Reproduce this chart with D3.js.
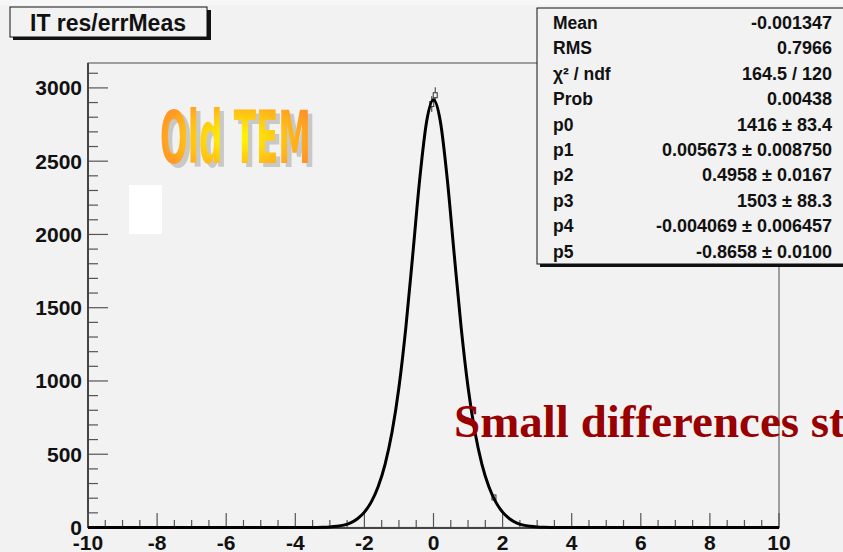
<!DOCTYPE html>
<html><head><meta charset="utf-8">
<script src="https://cdn.jsdelivr.net/npm/d3@7"></script>
<style>html,body{margin:0;padding:0;background:#f2f2f2;}svg{display:block;}</style>
</head><body>
<svg id="c" width="843" height="552"></svg>
<script>
// ---- data ----
const title = "IT res/errMeas";
const xTicks = [-10, -8, -6, -4, -2, 0, 2, 4, 6, 8, 10];
const yTicks = [0, 500, 1000, 1500, 2000, 2500, 3000];
// fitted curve
const fitX = [-10, -4, -3.6, -3.4, -3.2, -3.0, -2.8, -2.6, -2.4, -2.2, -2.0, -1.8, -1.6, -1.4, -1.2, -1.0, -0.8, -0.6, -0.4, -0.2, 0, 0.2, 0.4, 0.6, 0.8, 1.0, 1.2, 1.4, 1.6, 1.8, 2.0, 2.2, 2.4, 2.6, 2.8, 3.0, 3.2, 3.4, 3.6, 4, 10];
const fitY = [0, 0, 0.3, 0.7, 1.6, 3.7, 8, 16, 32, 60, 105, 175, 280, 433, 651, 957, 1366, 1863, 2374, 2769, 2919, 2769, 2374, 1863, 1366, 957, 651, 433, 280, 175, 105, 60, 32, 16, 8, 3.7, 1.6, 0.7, 0.3, 0, 0];
// visible histogram bins (bin centre, content)
const binX = [-0.05, 0.05, 1.75];
const binY = [2890, 2950, 205];
const statLabels = ["Mean", "RMS", "χ² / ndf", "Prob", "p0", "p1", "p2", "p3", "p4", "p5"];
const statValues = ["-0.001347", "0.7966", "164.5 / 120", "0.00438", "1416 ± 83.4", "0.005673 ± 0.008750", "0.4958 ± 0.0167", "1503 ± 88.3", "-0.004069 ± 0.006457", "-0.8658 ± 0.0100"];
const overlayLabel = "Old TEM";
const noteText = "Small differences st";

// ---- drawing ----
const svg = d3.select("#c");
const W = 843, H = 552;
const SANS = "Liberation Sans, Arial, Helvetica, sans-serif";
svg.append("rect").attr("width", W).attr("height", H).attr("fill", "#f2f2f2");
svg.append("rect").attr("width", W).attr("height", 5).attr("fill", "#f7f7f7");

const x = d3.scaleLinear().domain([-10, 10]).range([88, 779]);
const y = d3.scaleLinear().domain([0, 3170]).range([527.5, 63]);

// frame
svg.append("rect").attr("x", 88).attr("y", 63).attr("width", 779 - 88).attr("height", 527.5 - 63)
  .attr("fill", "none").attr("stroke", "#666").attr("stroke-width", 1.2);

// y axis
const yMinor = d3.range(0, 3101, 100);
const gy = svg.append("g");
gy.selectAll("line.t").data(yMinor).join("line")
  .attr("x1", 88).attr("x2", d => d % 500 === 0 ? 108 : 98)
  .attr("y1", d => y(d)).attr("y2", d => y(d))
  .attr("stroke", "#555").attr("stroke-width", 1.2);
gy.append("line").attr("x1", 88).attr("x2", 88).attr("y1", 63).attr("y2", 528)
  .attr("stroke", "#444").attr("stroke-width", 2);
gy.selectAll("text").data(yTicks).join("text")
  .attr("x", 82).attr("y", d => y(d) + 7.5).attr("text-anchor", "end")
  .attr("font-family", SANS).attr("font-weight", "bold")
  .attr("font-size", 21).attr("fill", "#111").text(d => d);

// x axis
const xMinor = d3.range(-10, 10.001, 0.5);
const gx = svg.append("g");
gx.selectAll("line.t").data(xMinor).join("line")
  .attr("x1", d => x(d)).attr("x2", d => x(d))
  .attr("y1", 528).attr("y2", d => Math.abs(d % 2) < 1e-9 ? 513 : 520)
  .attr("stroke", "#555").attr("stroke-width", 1.2);
gx.append("line").attr("x1", 88).attr("x2", 779).attr("y1", 528).attr("y2", 528)
  .attr("stroke", "#444").attr("stroke-width", 2);
gx.selectAll("text").data(xTicks).join("text")
  .attr("x", d => x(d)).attr("y", 550).attr("text-anchor", "middle")
  .attr("font-family", SANS).attr("font-weight", "bold")
  .attr("font-size", 21).attr("fill", "#111").text(d => d);

// histogram points with error bars
const bins = binX.map((v, i) => ({x: v, y: binY[i]}));
const gb = svg.append("g").attr("stroke", "#333").attr("stroke-width", 1);
gb.selectAll("line.e").data(bins).join("line")
  .attr("x1", d => x(d.x)).attr("x2", d => x(d.x))
  .attr("y1", d => y(d.y + Math.sqrt(d.y))).attr("y2", d => y(d.y - Math.sqrt(d.y)));
gb.selectAll("rect").data(bins).join("rect")
  .attr("x", d => x(d.x) - 2).attr("y", d => y(d.y) - 2.5).attr("width", 4).attr("height", 5)
  .attr("fill", "#f2f2f2");

// fit curve
const fit = fitX.map((v, i) => [v, fitY[i]]);
svg.append("path").datum(fit)
  .attr("d", d3.line().x(d => x(d[0])).y(d => y(d[1])).curve(d3.curveMonotoneX))
  .attr("fill", "none").attr("stroke", "#000").attr("stroke-width", 3)
  .attr("stroke-linejoin", "round");

// "Old TEM" word-art
const defs = svg.append("defs");
const grad = defs.append("radialGradient").attr("id", "wa").attr("cx", "50%").attr("cy", "50%").attr("r", "55%");
grad.append("stop").attr("offset", "0%").attr("stop-color", "#ffff00");
grad.append("stop").attr("offset", "100%").attr("stop-color", "#ff9326");
const wa = svg.append("g").attr("transform", "translate(160,163) scale(0.865,1.72)");
wa.append("text").attr("x", 5).attr("y", 2.5)
  .attr("font-family", "DejaVu Sans Condensed, DejaVu Sans, sans-serif").attr("font-weight", "bold")
  .attr("font-size", 42).attr("fill", "#c8c8c8").text(overlayLabel);
wa.append("text").attr("x", 0).attr("y", 0)
  .attr("font-family", "DejaVu Sans Condensed, DejaVu Sans, sans-serif").attr("font-weight", "bold")
  .attr("font-size", 42).attr("fill", "url(#wa)").text(overlayLabel);

// white block
svg.append("rect").attr("x", 129).attr("y", 185).attr("width", 33).attr("height", 49).attr("fill", "#fff");

// title box
svg.append("rect").attr("x", 13).attr("y", 10).attr("width", 198).attr("height", 30).attr("fill", "#111");
svg.append("rect").attr("x", 10).attr("y", 7).attr("width", 197).attr("height", 30)
  .attr("fill", "#f2f2f2").attr("stroke", "#111").attr("stroke-width", 1);
svg.append("text").attr("x", 108).attr("y", 31).attr("text-anchor", "middle")
  .attr("font-family", SANS).attr("font-weight", "bold")
  .attr("font-size", 23).attr("fill", "#111").text(title);

// stats box
svg.append("rect").attr("x", 540).attr("y", 11).attr("width", 320).attr("height", 256).attr("fill", "#111");
svg.append("rect").attr("x", 537).attr("y", 8).attr("width", 320).attr("height", 256)
  .attr("fill", "#f2f2f2").attr("stroke", "#111").attr("stroke-width", 1);
const gs = svg.append("g").attr("font-family", SANS)
  .attr("font-weight", "bold").attr("font-size", 17.5).attr("fill", "#111");
gs.selectAll("text.l").data(statLabels).join("text")
  .attr("x", 553).attr("y", (d, i) => 29 + i * 25.4).text(d => d);
gs.selectAll("text.v").data(statValues).join("text")
  .attr("x", 832).attr("y", (d, i) => 29 + i * 25.4).attr("text-anchor", "end")
  .attr("font-size", 18).text(d => d);

// note text
svg.append("text").attr("x", 454).attr("y", 437)
  .attr("font-family", "Liberation Serif, Times New Roman, serif").attr("font-weight", "bold")
  .attr("font-size", 47).attr("fill", "#990000").text(noteText);
</script>
</body></html>
